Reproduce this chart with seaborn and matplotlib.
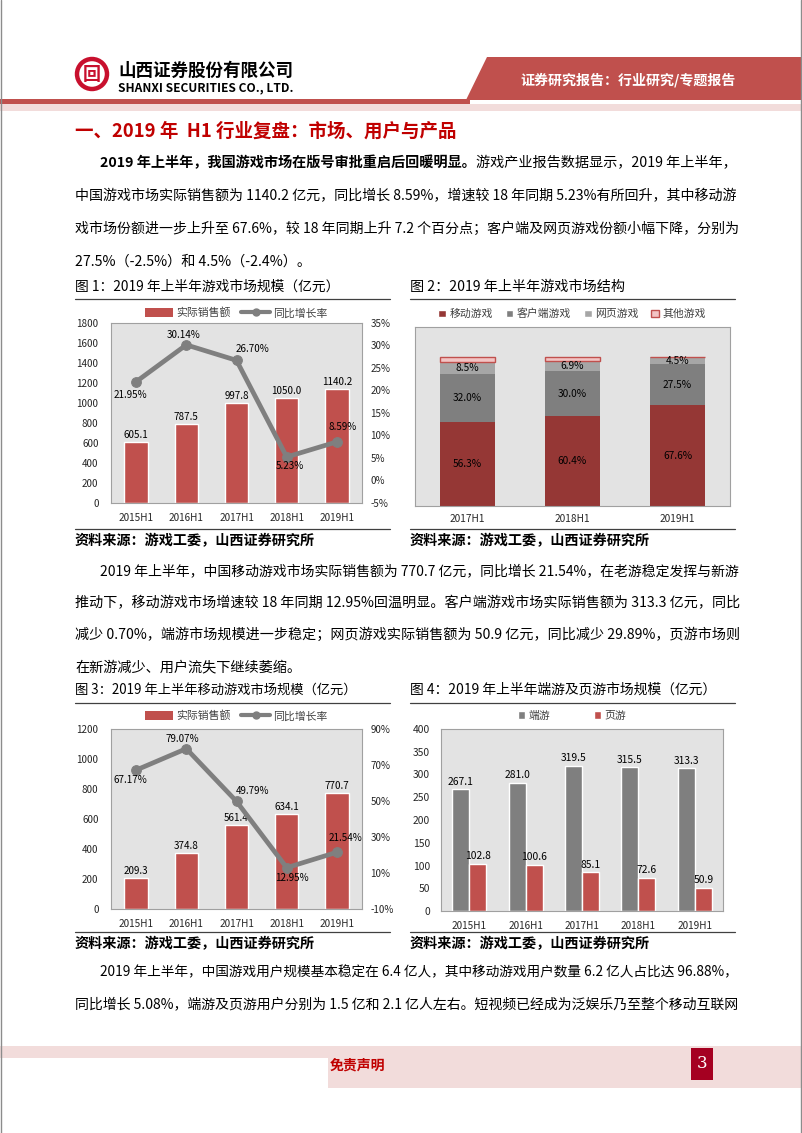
import numpy as np
import pandas as pd
import matplotlib
matplotlib.use("Agg")
import matplotlib.pyplot as plt
import seaborn as sns
from matplotlib.patches import Polygon, Rectangle, Circle, Patch
from matplotlib.lines import Line2D

# ---------------- data ----------------
years5 = ["2015H1", "2016H1", "2017H1", "2018H1", "2019H1"]
market_sales = [605.1, 787.5, 997.8, 1050.0, 1140.2]
market_growth = [21.95, 30.14, 26.70, 5.23, 8.59]

years3 = ["2017H1", "2018H1", "2019H1"]
share_mobile = [56.3, 60.4, 67.6]
share_client = [32.0, 30.0, 27.5]
share_web = [8.5, 6.9, 4.5]
share_other = [3.2, 2.7, 0.4]
share_names = ["移动游戏", "客户端游戏", "网页游戏", "其他游戏"]

mobile_sales = [209.3, 374.8, 561.4, 634.1, 770.7]
mobile_growth = [67.17, 79.07, 49.79, 12.95, 21.54]

client_sales = [267.1, 281.0, 319.5, 315.5, 313.3]
web_sales = [102.8, 100.6, 85.1, 72.6, 50.9]

# ---------------- style ----------------
sns.set_theme(style="white")
plt.rcParams["font.family"] = ["Noto Sans CJK SC", "DejaVu Sans"]
plt.rcParams["axes.unicode_minus"] = False

RED = "#C0504D"
DARKRED = "#953735"
GREY = "#7F7F7F"
LGREY = "#A6A6A6"
PINK = "#F2C4C4"
TITLE_RED = "#C00000"
PLOT_BG = "#E3E3E3"
TXT = "#262626"

W, H = 802, 1133
fig = plt.figure(figsize=(W / 100, H / 100), dpi=100)
fig.patch.set_facecolor("white")
page = fig.add_axes([0, 0, 1, 1])
page.set_xlim(0, W)
page.set_ylim(H, 0)
page.axis("off")
page.set_zorder(-5)
renderer = fig.canvas.get_renderer()


def axpx(l, t, r, b):
    return fig.add_axes([l / W, 1 - b / H, (r - l) / W, (b - t) / H])


def text_width(s, fs, weight="normal"):
    t = page.text(0, 0, s, fontsize=fs, fontweight=weight)
    w = t.get_window_extent(renderer).width
    t.remove()
    return w


def line(x0, y, parts, x1=None, fs=9.6, color="black"):
    if x1 is not None:
        tot = sum(text_width(s, fs, w) for s, w in parts)
        fs = fs * (x1 - x0) / tot
    x = x0
    for s, w in parts:
        t = page.text(x, y, s, fontsize=fs, fontweight=w, ha="left", va="center", color=color)
        x += t.get_window_extent(renderer).width
    return fs


# ---------------- header ----------------
page.add_patch(Circle((92, 74), 15, facecolor="none", edgecolor="#C8102E", lw=3.2))
page.text(92, 74.5, "回", fontsize=13, fontweight="bold", color="#C8102E", ha="center", va="center")
line(118, 71, [("山西证券股份有限公司", "bold")], x1=293, fs=13)
line(118, 88, [("SHANXI SECURITIES CO., LTD.", "bold")], x1=293, fs=8)
page.add_patch(Polygon([(487, 57), (802, 57), (802, 100), (466, 100)], closed=True, color="#C0504D", lw=0))
page.add_patch(Rectangle((0, 99), 470, 5, color="#C0504D", lw=0))
page.add_patch(Rectangle((0, 104), 802, 7, color="#F2DCDB", lw=0))
line(520, 80, [("证券研究报告：行业研究/专题报告", "bold")], x1=735, fs=10, color="white")

# page border
page.plot([1, 1], [0, H], color="#8C8C8C", lw=1)
page.plot([800.5, 800.5], [0, H], color="#8C8C8C", lw=1)

# ---------------- title & paragraphs ----------------
line(75, 131, [("一、2019 年  H1 行业复盘：市场、用户与产品", "bold")], x1=457, fs=14, color=TITLE_RED)

fs1 = line(100, 163, [("2019 年上半年，我国游戏市场在版号审批重启后回暖明显。", "bold"),
                      ("游戏产业报告数据显示，2019 年上半年，", "normal")], x1=740)
line(75, 196, [("中国游戏市场实际销售额为 1140.2 亿元，同比增长 8.59%，增速较 18 年同期 5.23%有所回升，其中移动游", "normal")], x1=740)
line(75, 229, [("戏市场份额进一步上升至 67.6%，较 18 年同期上升 7.2 个百分点；客户端及网页游戏份额小幅下降，分别为", "normal")], x1=740)
line(75, 262, [("27.5%（-2.5%）和 4.5%（-2.4%）。", "normal")], fs=fs1)

line(100, 571, [("2019 年上半年，中国移动游戏市场实际销售额为 770.7 亿元，同比增长 21.54%，在老游稳定发挥与新游", "normal")], x1=740)
line(75, 603, [("推动下，移动游戏市场增速较 18 年同期 12.95%回温明显。客户端游戏市场实际销售额为 313.3 亿元，同比", "normal")], x1=740)
line(75, 635, [("减少 0.70%，端游市场规模进一步稳定；网页游戏实际销售额为 50.9 亿元，同比减少 29.89%，页游市场则", "normal")], x1=740)
line(75, 667, [("在新游减少、用户流失下继续萎缩。", "normal")], fs=fs1)

line(100, 972, [("2019 年上半年，中国游戏用户规模基本稳定在 6.4 亿人，其中移动游戏用户数量 6.2 亿人占比达 96.88%，", "normal")], x1=742)
line(75, 1004, [("同比增长 5.08%，端游及页游用户分别为 1.5 亿和 2.1 亿人左右。短视频已经成为泛娱乐乃至整个移动互联网", "normal")], x1=742)

# ---------------- captions / rules / sources ----------------
line(75, 287, [("图 1：2019 年上半年游戏市场规模（亿元）", "normal")], x1=340)
line(410, 287, [("图 2：2019 年上半年游戏市场结构", "normal")], x1=625)
line(75, 690, [("图 3：2019 年上半年移动游戏市场规模（亿元）", "normal")], x1=358)
line(410, 690, [("图 4：2019 年上半年端游及页游市场规模（亿元）", "normal")], x1=718)
for y in (299, 529, 703, 932):
    page.plot([75, 390], [y, y], color="#404040", lw=0.9)
    page.plot([410, 735], [y, y], color="#404040", lw=0.9)
for y in (541, 944):
    line(75, y, [("资料来源：游戏工委，山西证券研究所", "bold")], x1=316)
    line(410, y, [("资料来源：游戏工委，山西证券研究所", "bold")], x1=651)

# ---------------- footer ----------------
page.add_patch(Rectangle((0, 1046), 802, 42, color="#F2DCDB", lw=0))
page.add_patch(Rectangle((0, 1058), 328, 32, color="white", lw=0))
page.text(330, 1065, "免责声明", fontsize=10, fontweight="bold", color="#C00000", ha="left", va="center")
page.add_patch(Rectangle((691, 1048), 22, 32, color="#A50021", lw=0))
page.text(702, 1064, "3", fontsize=12, color="white", ha="center", va="center", family="DejaVu Serif")


# ---------------- chart helpers ----------------
def style_plot(ax):
    ax.set_facecolor(PLOT_BG)
    for s in ax.spines.values():
        s.set_visible(True)
        s.set_color("#A0A0A0")
        s.set_linewidth(0.8)
    ax.set_xlabel("")
    ax.set_ylabel("")


def combo(box, sales, growth, ylim, yticks, y2lim, y2ticks, leg_xy, offs):
    ax = axpx(*box)
    sns.barplot(x=years5, y=sales, color=RED, width=0.47, saturation=1, ax=ax)
    style_plot(ax)
    ax.set_xlim(-0.5, 4.5)
    ax.set_ylim(*ylim)
    ax.set_yticks(yticks)
    ax.tick_params(axis="y", length=0, labelsize=7.1, colors=TXT, pad=9)
    ax.tick_params(axis="x", length=0, labelsize=7.2, colors=TXT, pad=7)
    ax.bar_label(ax.containers[0], fmt="%.1f", padding=1.5, fontsize=7.1, color="black")
    ax2 = ax.twinx()
    sns.lineplot(x=np.arange(5), y=growth, color=GREY, lw=3.4, marker="o", markersize=7,
                 markeredgecolor=GREY, ax=ax2)
    ax2.set_xlim(-0.5, 4.5)
    ax2.set_ylim(*y2lim)
    ax2.set_yticks(y2ticks)
    ax2.set_yticklabels([f"{v}%" for v in y2ticks])
    ax2.tick_params(axis="y", length=0, labelsize=7.1, colors=TXT, pad=6)
    ax2.set_ylabel("")
    for s in ax2.spines.values():
        s.set_visible(False)
    for i, (v, (dx, dy)) in enumerate(zip(growth, offs)):
        ax2.annotate(f"{v:.2f}%", (i, v), xytext=(dx, dy), textcoords="offset pixels",
                     ha="center", va="center", fontsize=7.1, color="black")
    handles = [Patch(facecolor=RED, edgecolor="none"),
               Line2D([0], [0], color=GREY, lw=3, marker="o", markersize=5)]
    ax.legend(handles, ["实际销售额", "同比增长率"], loc="center", ncol=2, frameon=False,
              bbox_to_anchor=(leg_xy[0] / W, 1 - leg_xy[1] / H), bbox_transform=fig.transFigure,
              fontsize=7.8, handlelength=2.6, handleheight=0.8, columnspacing=1.0, handletextpad=0.3,
              labelcolor="#404040")
    return ax


# Chart 1
combo((111, 323, 362, 503), market_sales, market_growth, (0, 1800), range(0, 1801, 200),
      (-5, 35), list(range(-5, 36, 5)), (236, 313),
      [(-6, -13), (-3, 10), (16, 11), (3, -9), (6, 15)])

# Chart 3
combo((111, 729, 362, 909), mobile_sales, mobile_growth, (0, 1200), range(0, 1201, 200),
      (-10, 90), list(range(-10, 91, 20)), (236, 716),
      [(-6, -10), (-4, 10), (16, 10), (5, -10), (9, 14)])

# Chart 2 : stacked shares
ax = axpx(415, 327, 730, 506)
style_plot(ax)
bottoms = np.zeros(3)
layers = [(share_mobile, DARKRED, "none"), (share_client, GREY, "none"),
          (share_web, LGREY, "none"), (share_other, PINK, RED)]
for vals, col, ec in layers:
    sns.barplot(x=years3, y=vals, color=col, width=0.52, saturation=1, bottom=bottoms,
                edgecolor=ec, linewidth=1.0 if ec != "none" else 0, ax=ax)
    bottoms = bottoms + np.array(vals)
ax.set_xlim(-0.5, 2.5)
ax.set_ylim(0, 120)
ax.set_yticks([])
ax.set_xlabel("")
ax.set_ylabel("")
ax.tick_params(axis="x", length=0, labelsize=7.3, colors=TXT, pad=6)
cum = np.zeros(3)
for vals in (share_mobile, share_client, share_web):
    for i, v in enumerate(vals):
        ax.text(i, cum[i] + v / 2, f"{v:.1f}%", ha="center", va="center", fontsize=7.3, color="black")
    cum = cum + np.array(vals)
h2 = [Patch(facecolor=DARKRED), Patch(facecolor=GREY), Patch(facecolor=LGREY),
      Patch(facecolor=PINK, edgecolor=RED)]
ax.legend(h2, share_names, loc="center", ncol=4, frameon=False,
          bbox_to_anchor=(572 / W, 1 - 314 / H), bbox_transform=fig.transFigure,
          fontsize=7.8, handlelength=0.7, handleheight=0.7, columnspacing=1.2, handletextpad=0.3,
          labelcolor="#404040")

# Chart 4 : grouped bars
df4 = pd.DataFrame({
    "year": years5 * 2,
    "value": client_sales + web_sales,
    "type": ["端游"] * 5 + ["页游"] * 5,
})
ax = axpx(441, 729, 723, 911)
sns.barplot(data=df4, x="year", y="value", hue="type", palette=[GREY, RED], width=0.6,
            saturation=1, legend=False, ax=ax)
style_plot(ax)
ax.set_xlim(-0.5, 4.5)
ax.set_ylim(0, 400)
ax.set_yticks(range(0, 401, 50))
ax.tick_params(axis="y", length=0, labelsize=7.4, colors=TXT, pad=8)
ax.tick_params(axis="x", length=0, labelsize=7.2, colors=TXT, pad=7)
for c in ax.containers:
    ax.bar_label(c, fmt="%.1f", padding=2, fontsize=7.4, color="black")
h4 = [Patch(facecolor=GREY), Patch(facecolor=RED)]
ax.legend(h4, ["端游", "页游"], loc="center", ncol=2, frameon=False,
          bbox_to_anchor=(572 / W, 1 - 716 / H), bbox_transform=fig.transFigure,
          fontsize=7.8, handlelength=0.7, handleheight=0.7, columnspacing=4.0, handletextpad=0.3,
          labelcolor="#404040")

fig.savefig("out.png", dpi=100, facecolor="white")
